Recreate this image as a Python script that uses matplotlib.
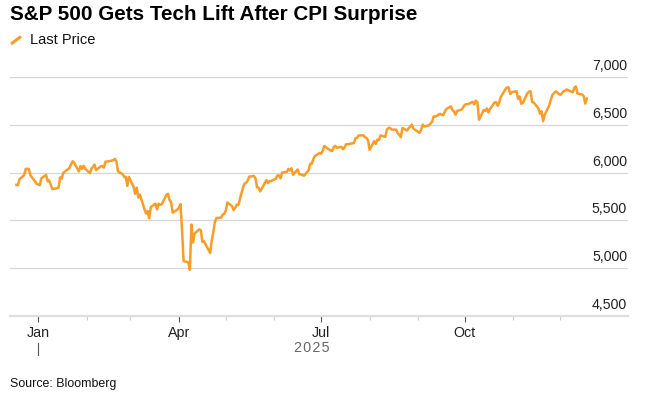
import matplotlib
matplotlib.use('Agg')
import matplotlib.pyplot as plt
import matplotlib.dates as mdates
import matplotlib.transforms as mtransforms
from matplotlib.lines import Line2D
import pandas as pd

plt.rcParams['font.family'] = ['Liberation Sans', 'DejaVu Sans']

# Daily closes of the S&P 500 (one line per month)
dates = [
    '2024-12-18', '2024-12-19', '2024-12-20', '2024-12-23', '2024-12-24', '2024-12-26', '2024-12-27', '2024-12-30', '2024-12-31',
    '2025-01-02', '2025-01-03', '2025-01-06', '2025-01-07', '2025-01-08', '2025-01-10', '2025-01-13', '2025-01-14', '2025-01-15', '2025-01-16',
    '2025-01-17', '2025-01-21', '2025-01-22', '2025-01-23', '2025-01-24', '2025-01-27', '2025-01-28', '2025-01-29', '2025-01-30', '2025-01-31',
    '2025-02-03', '2025-02-04', '2025-02-05', '2025-02-06', '2025-02-07', '2025-02-10', '2025-02-11', '2025-02-12', '2025-02-13', '2025-02-14',
    '2025-02-18', '2025-02-19', '2025-02-20', '2025-02-21', '2025-02-24', '2025-02-25', '2025-02-26', '2025-02-27', '2025-02-28',
    '2025-03-03', '2025-03-04', '2025-03-05', '2025-03-06', '2025-03-07', '2025-03-10', '2025-03-11', '2025-03-12', '2025-03-13', '2025-03-14',
    '2025-03-17', '2025-03-18', '2025-03-19', '2025-03-20', '2025-03-21', '2025-03-24', '2025-03-25', '2025-03-26', '2025-03-27', '2025-03-28', '2025-03-31',
    '2025-04-01', '2025-04-02', '2025-04-03', '2025-04-04', '2025-04-07', '2025-04-08', '2025-04-09', '2025-04-10', '2025-04-11', '2025-04-14',
    '2025-04-15', '2025-04-16', '2025-04-17', '2025-04-21', '2025-04-22', '2025-04-23', '2025-04-24', '2025-04-25', '2025-04-28', '2025-04-29', '2025-04-30',
    '2025-05-01', '2025-05-02', '2025-05-05', '2025-05-06', '2025-05-07', '2025-05-08', '2025-05-09', '2025-05-12', '2025-05-13', '2025-05-14',
    '2025-05-15', '2025-05-16', '2025-05-19', '2025-05-20', '2025-05-21', '2025-05-22', '2025-05-23', '2025-05-27', '2025-05-28', '2025-05-29', '2025-05-30',
    '2025-06-02', '2025-06-03', '2025-06-04', '2025-06-05', '2025-06-06', '2025-06-09', '2025-06-10', '2025-06-11', '2025-06-12', '2025-06-13',
    '2025-06-16', '2025-06-17', '2025-06-18', '2025-06-20', '2025-06-23', '2025-06-24', '2025-06-25', '2025-06-26', '2025-06-27', '2025-06-30',
    '2025-07-01', '2025-07-02', '2025-07-03', '2025-07-07', '2025-07-08', '2025-07-09', '2025-07-10', '2025-07-11', '2025-07-14', '2025-07-15', '2025-07-16',
    '2025-07-17', '2025-07-18', '2025-07-21', '2025-07-22', '2025-07-23', '2025-07-24', '2025-07-25', '2025-07-28', '2025-07-29', '2025-07-30', '2025-07-31',
    '2025-08-01', '2025-08-04', '2025-08-05', '2025-08-06', '2025-08-07', '2025-08-08', '2025-08-11', '2025-08-12', '2025-08-13', '2025-08-14',
    '2025-08-15', '2025-08-18', '2025-08-19', '2025-08-20', '2025-08-21', '2025-08-22', '2025-08-25', '2025-08-26', '2025-08-27', '2025-08-28', '2025-08-29',
    '2025-09-02', '2025-09-03', '2025-09-04', '2025-09-05', '2025-09-08', '2025-09-09', '2025-09-10', '2025-09-11', '2025-09-12', '2025-09-15',
    '2025-09-16', '2025-09-17', '2025-09-18', '2025-09-19', '2025-09-22', '2025-09-23', '2025-09-24', '2025-09-25', '2025-09-26', '2025-09-29', '2025-09-30',
    '2025-10-01', '2025-10-02', '2025-10-03', '2025-10-06', '2025-10-07', '2025-10-08', '2025-10-09', '2025-10-10', '2025-10-13', '2025-10-14', '2025-10-15',
    '2025-10-16', '2025-10-17', '2025-10-20', '2025-10-21', '2025-10-22', '2025-10-23', '2025-10-24', '2025-10-27', '2025-10-28', '2025-10-29', '2025-10-30', '2025-10-31',
    '2025-11-03', '2025-11-04', '2025-11-05', '2025-11-06', '2025-11-07', '2025-11-10', '2025-11-11', '2025-11-12', '2025-11-13', '2025-11-14',
    '2025-11-17', '2025-11-18', '2025-11-19', '2025-11-20', '2025-11-21', '2025-11-24', '2025-11-25', '2025-11-26', '2025-11-28',
    '2025-12-01', '2025-12-02', '2025-12-03', '2025-12-04', '2025-12-05', '2025-12-08', '2025-12-09', '2025-12-10', '2025-12-11', '2025-12-12',
    '2025-12-15', '2025-12-16', '2025-12-17', '2025-12-18',
]
closes = [
    5872, 5867, 5931, 5974, 6040, 6037, 5971, 5907, 5882,
    5869, 5942, 5975, 5909, 5918, 5827, 5837, 5843, 5950, 5937,
    5997, 6049, 6086, 6119, 6101, 6012, 6068, 6039, 6071, 6041,
    5994, 6038, 6061, 6084, 6026, 6066, 6069, 6052, 6115, 6115,
    6129, 6144, 6118, 6013, 5983, 5955, 5956, 5861, 5955,
    5850, 5778, 5843, 5739, 5770, 5615, 5572, 5599, 5522, 5639,
    5675, 5615, 5675, 5663, 5668, 5768, 5777, 5712, 5693, 5581, 5612,
    5633, 5671, 5397, 5074, 5062, 4983, 5457, 5268, 5363, 5406,
    5397, 5276, 5283, 5158, 5288, 5376, 5485, 5525, 5529, 5561, 5569,
    5604, 5687, 5650, 5607, 5631, 5664, 5660, 5844, 5886, 5892,
    5917, 5958, 5964, 5941, 5845, 5842, 5803, 5922, 5889, 5912, 5912,
    5936, 5970, 5971, 5939, 6000, 6006, 6039, 6022, 6045, 5977,
    6033, 5982, 5981, 5967, 6025, 6092, 6092, 6141, 6173, 6205,
    6198, 6227, 6279, 6230, 6226, 6263, 6280, 6260, 6269, 6244, 6264,
    6297, 6297, 6306, 6309, 6359, 6363, 6389, 6390, 6371, 6362, 6339,
    6238, 6330, 6299, 6345, 6340, 6389, 6374, 6446, 6466, 6469,
    6450, 6449, 6411, 6396, 6370, 6467, 6440, 6466, 6481, 6502, 6460,
    6416, 6448, 6502, 6482, 6495, 6512, 6532, 6588, 6584, 6615,
    6607, 6600, 6632, 6664, 6693, 6656, 6638, 6605, 6644, 6661, 6688,
    6711, 6715, 6716, 6740, 6714, 6753, 6735, 6553, 6655, 6644, 6671,
    6630, 6664, 6735, 6735, 6699, 6738, 6792, 6875, 6891, 6891, 6822, 6840,
    6852, 6772, 6796, 6720, 6728, 6832, 6846, 6851, 6737, 6734,
    6672, 6617, 6642, 6538, 6603, 6705, 6766, 6813, 6849,
    6813, 6829, 6850, 6857, 6870, 6846, 6840, 6887, 6901, 6827,
    6817, 6800, 6721, 6775,
]
assert len(dates) == len(closes)

y_ticks = [4500, 5000, 5500, 6000, 6500, 7000]
major_months = ['2025-01-01', '2025-04-01', '2025-07-01', '2025-10-01']
major_labels = ['Jan', 'Apr', 'Jul', 'Oct']
minor_months = ['2025-02-01', '2025-03-01', '2025-05-01', '2025-06-01',
                '2025-08-01', '2025-09-01', '2025-11-01', '2025-12-01']

line_color = '#F99D2A'
W, H = 652, 398

fig = plt.figure(figsize=(W / 100, H / 100), dpi=100)
# axes box in pixels: x 10..628, y 77..316 (from top)
ax = fig.add_axes([10 / W, (H - 316) / H, 618 / W, 239 / H])

x = pd.to_datetime(dates)
ax.plot(x, closes, color=line_color, lw=1.8, solid_joinstyle='round', zorder=3)

ax.set_xlim(pd.Timestamp('2024-12-13 22:00'), pd.Timestamp('2026-01-13 08:00'))
ax.set_ylim(4500, 7000)

for s in ['top', 'right', 'left']:
    ax.spines[s].set_visible(False)
ax.spines['bottom'].set_color('#dedede')
ax.spines['bottom'].set_linewidth(1.6)

# horizontal gridlines
for v in y_ticks[1:]:
    ax.axhline(v, color='#d6d6d6', lw=0.9, zorder=1)
ax.set_yticks([])

# y labels sit above the gridlines at the right edge
lab_tr = mtransforms.offset_copy(ax.get_yaxis_transform(), fig=fig, x=-1, y=7, units='dots')
for v in y_ticks:
    ax.text(1.0, v, f'{v:,}', transform=lab_tr, ha='right', va='baseline',
            fontsize=10.2, color='#222222')

# month ticks
ax.set_xticks(pd.to_datetime(major_months))
ax.set_xticklabels(major_labels)
ax.set_xticks(pd.to_datetime(minor_months), minor=True)
ax.tick_params(axis='x', which='major', length=4.5, width=0.8, color='#555555',
               labelsize=10.3, labelcolor='#222222', pad=3)
ax.tick_params(axis='x', which='minor', length=3, width=0.8, color='#cccccc')

# year label and divider
ax.text(312 / W, (H - 348) / H, '2 0 2 5'.replace(' ', '\u200a'), transform=fig.transFigure,
        ha='center', va='center', fontsize=10.3, color='#666666')
ax.plot([mdates.date2num(pd.Timestamp('2025-01-01'))] * 2, [-0.113, -0.163],
        transform=ax.get_xaxis_transform(), color='#555555', lw=0.8, clip_on=False)

# title and legend
fig.text(10 / W, (H - 15) / H, 'S&P 500 Gets Tech Lift After CPI Surprise', ha='left', va='center',
         fontsize=14.9, fontweight='bold', color='#000000')
fig.add_artist(Line2D([11 / W, 21 / W], [(H - 44) / H, (H - 36.5) / H], color=line_color,
                      lw=2.2, solid_capstyle='butt', transform=fig.transFigure))
fig.text(30 / W, (H - 40.5) / H, 'Last Price', ha='left', va='center', fontsize=10.5, color='#111111')

fig.text(10 / W, (H - 384) / H, 'Source: Bloomberg', ha='left', va='center', fontsize=8.9, color='#111111')

fig.savefig('out.png', dpi=100, facecolor='white')
